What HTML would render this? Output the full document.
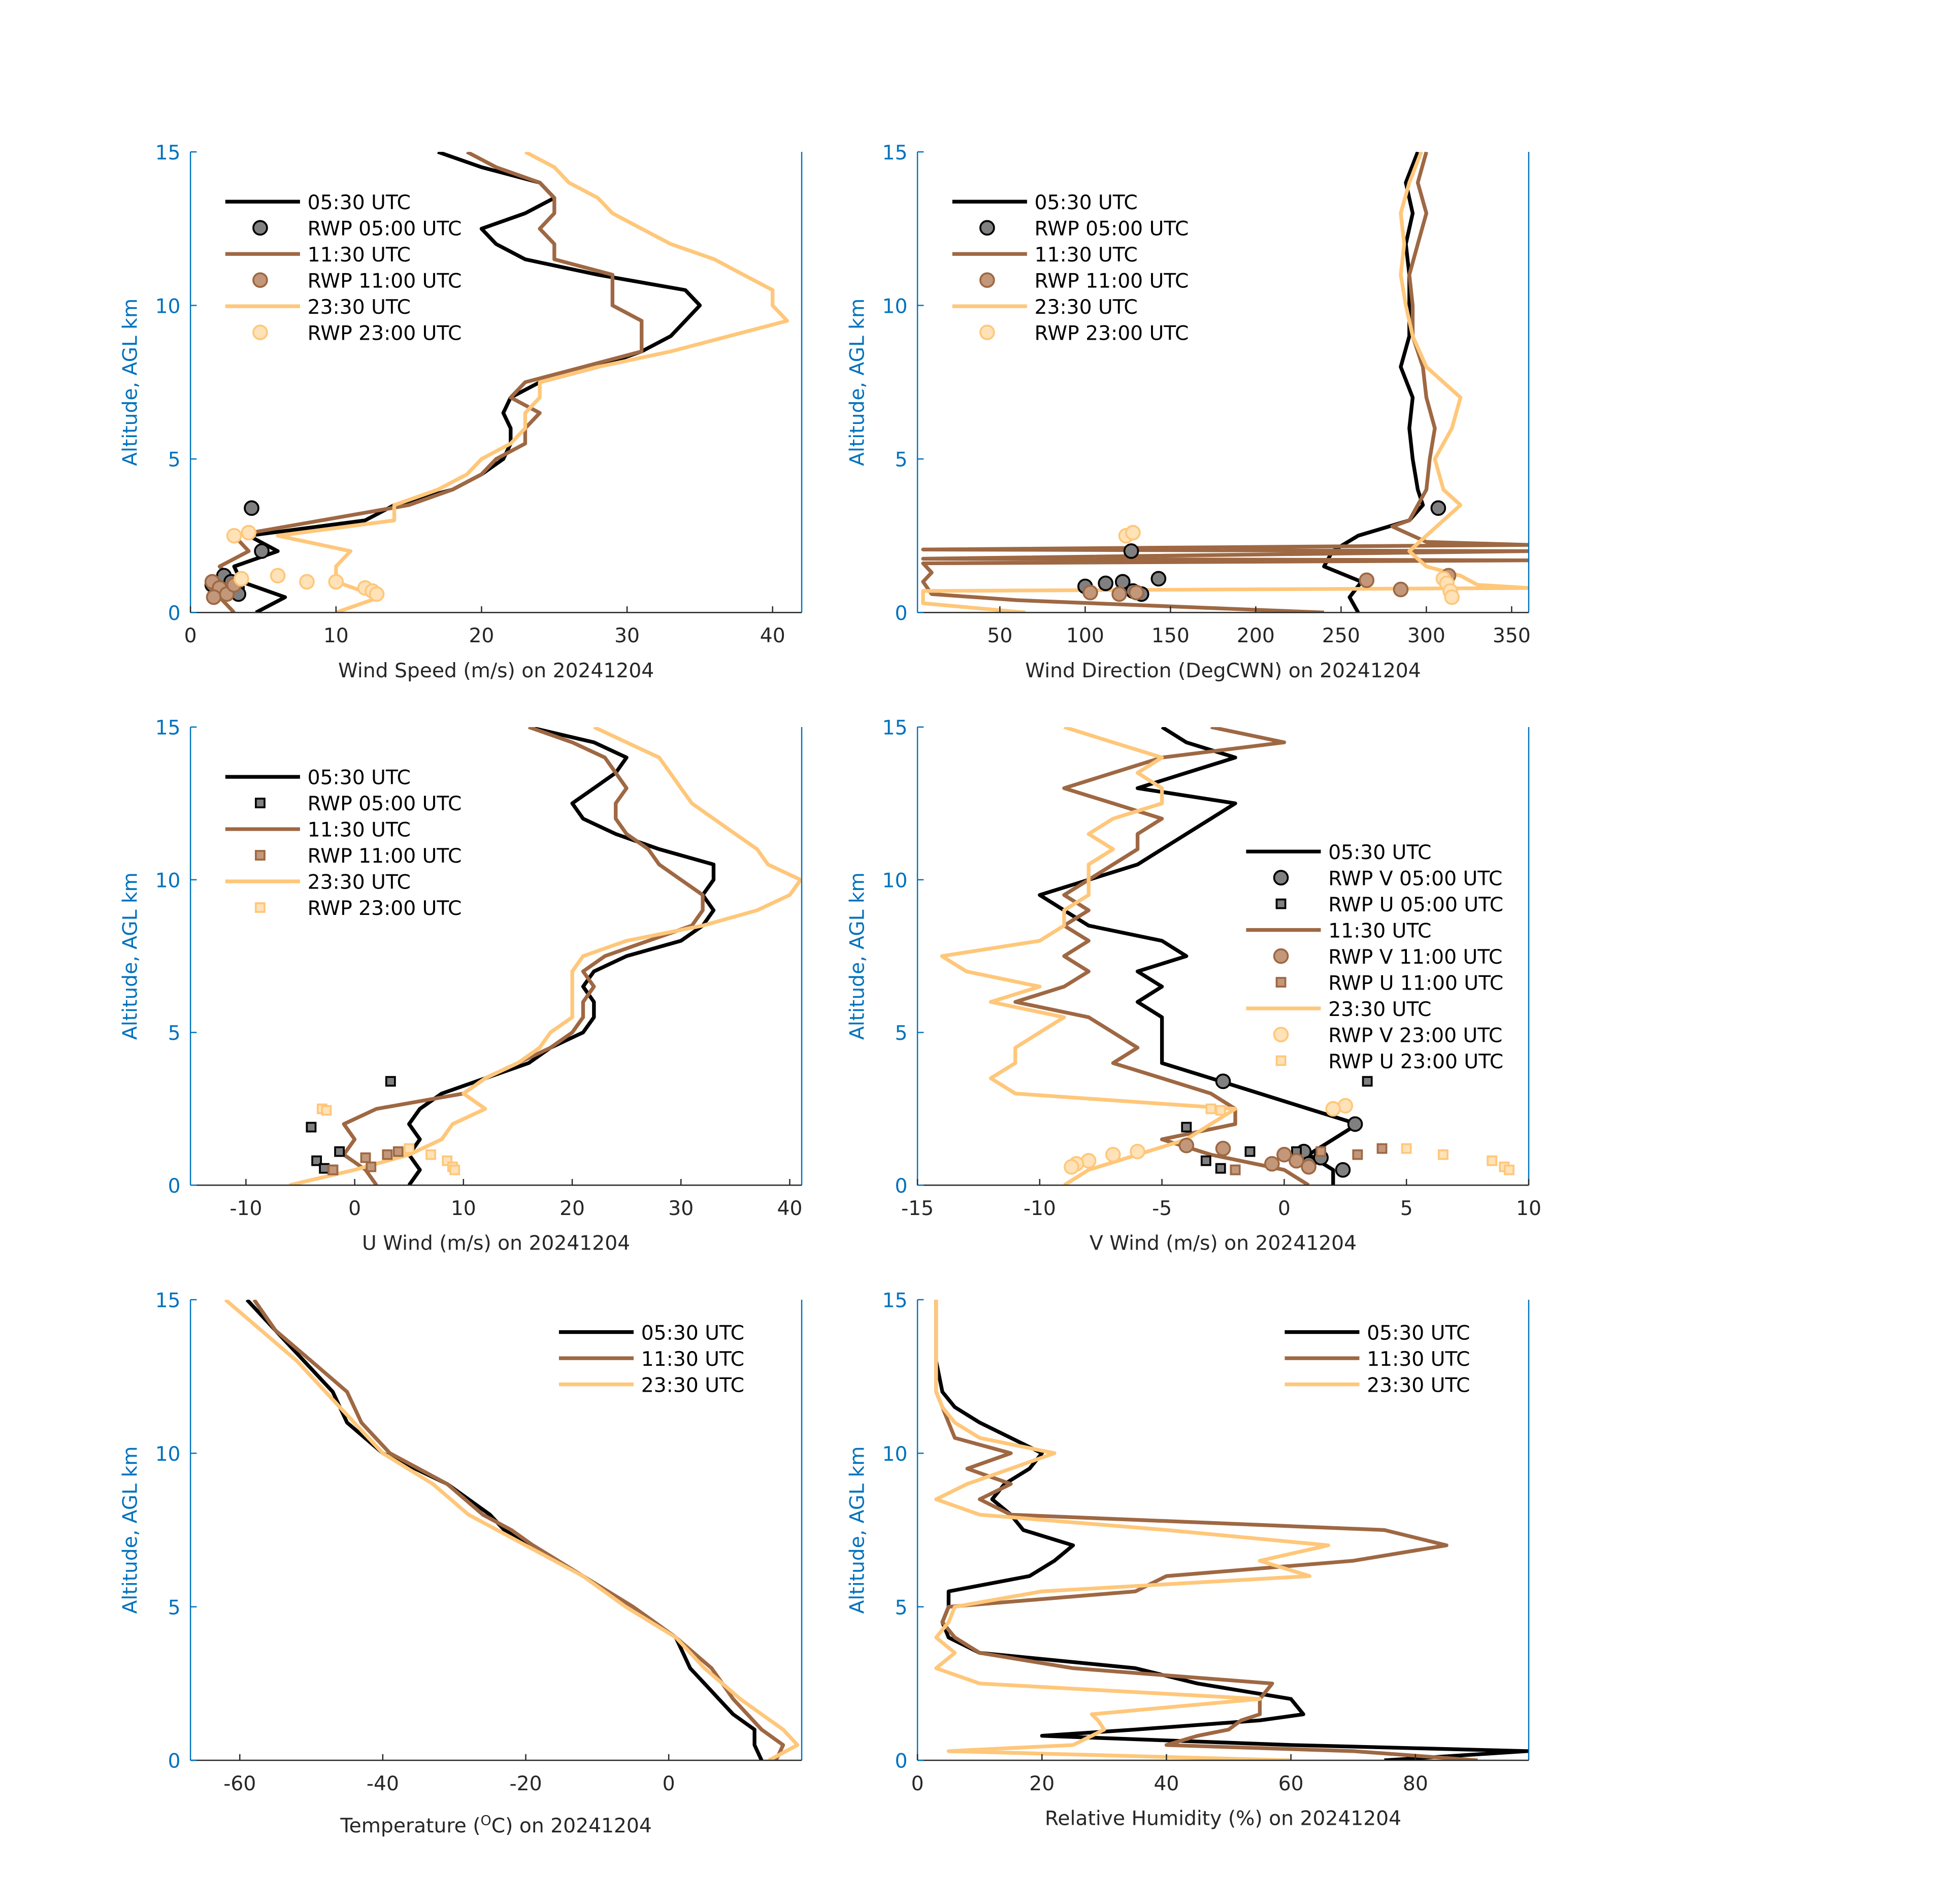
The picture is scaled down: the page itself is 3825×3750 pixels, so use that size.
<!DOCTYPE html>
<html><head><meta charset="utf-8"><style>
html,body{margin:0;padding:0;background:#fff;}
svg{display:block;font-family:"DejaVu Sans","Liberation Sans",sans-serif;}
</style></head><body>
<svg id="fig" width="3825" height="3750" viewBox="0 0 1560 1529.4" xmlns="http://www.w3.org/2000/svg"></svg>
<script>
// ---- shared altitude grid ----
const altStd = [0,0.5,1,1.5,2,2.5,3,3.5,4,4.5,5,5.5,6,6.5,7,7.5,8,8.5,9,9.5,10,10.5,11,11.5,12,12.5,13,13.5,14,14.5,15];
// ---- wind speed ----
const spd0530 = [4.5,6.5,3.5,3,6,4,12,14,18,20,21.5,22,22,21.5,22,24,28,31,33,34,35,34,28,23,21,20,23,25,24,20,17];
const spd1130 = [3,2,3,2,4,3,9,15,18,20,21,23,23,24,22,23,27,31,31,31,29,29,29,25,25,24,25,25,24,21,19];
const spd2330 = [10,13,10,10,11,6,14,14,17,19,20,22,23,23,24,24,28,33,37,41,40,40,38,36,33,31,29,28,26,25,23];
const rwpSpd0500 = [[4.2,3.4],[4.9,2.0],[2.3,1.2],[2.8,1.0],[3.2,0.8],[3.3,0.6],[2,0.7],[1.5,0.9]];
const rwpSpd1100 = [[1.5,1.0],[2,0.8],[1.6,0.5],[2.5,0.6],[3,0.9]];
const rwpSpd2300 = [[3,2.5],[4,2.6],[6,1.2],[8,1.0],[10,1.0],[12,0.8],[12.5,0.7],[12.8,0.6],[3.5,1.1]];
// ---- wind direction ----
const dirAlt0530 = [0,0.5,1,1.5,2,2.5,3,3.5,4,5,6,7,8,9,10,11,12,13,14,15];
const dir0530 = [260,255,262,240,245,260,290,298,295,292,290,292,285,290,290,290,288,292,288,295];
const dirAlt1130 = [0,0.2,0.4,0.6,1.0,1.3,1.6,1.7,1.75,2.0,2.05,2.2,2.3,2.8,3,3.5,4,5,6,7,8,9,10,11,12,13,14,15];
const dir1130 = [240,150,60,10,5,10,5,360,5,360,5,360,300,280,290,295,300,302,305,300,298,292,292,290,295,300,295,300];
const dirAlt2330 = [0,0.3,0.7,0.8,0.9,1.2,1.5,2,2.5,3,3.5,4,5,6,7,8,9,10,11,12,13,14,15];
const dir2330 = [65,5,5,360,330,320,300,290,300,310,320,310,305,315,320,300,292,288,285,287,285,290,297];
const rwpDir0500 = [[307,3.4],[127,2.0],[100,0.85],[112,0.95],[122,1.0],[128,0.7],[133,0.6],[143,1.1]];
const rwpDir1100 = [[285,0.75],[265,1.05],[313,1.2],[103,0.65],[120,0.6],[130,0.65]];
const rwpDir2300 = [[124,2.5],[128,2.6],[310,1.1],[312,0.95],[314,0.7],[315,0.5]];
// ---- U wind ----
const u0530 = [5,6,5,6,5,6,8,12,16,18,21,22,22,21,22,25,30,32,33,32,33,33,28,24,21,20,22,24,25,22,16];
const u1130 = [2,1,-1,0,-1,2,10,12,15,18,20,21,21,22,21,23,27,31,32,32,30,28,27,25,24,24,25,24,23,20,16];
const u2330 = [-6,0,5,8,9,12,10,12,15,17,18,20,20,20,20,21,25,32,37,40,41,38,37,35,33,31,30,29,28,25,22];
const rwpU0500 = [[3.3,3.4],[-4,1.9],[-1.4,1.1],[-3.5,0.8],[-2,0.5],[-2.8,0.55]];
const rwpU1100 = [[1,0.9],[3,1.0],[4,1.1],[1.5,0.6],[-2,0.5]];
const rwpU2300 = [[-3,2.5],[-2.6,2.45],[5,1.2],[7,1.0],[8.5,0.8],[9,0.6],[9.2,0.5]];
// ---- V wind ----
const v0530 = [2,2,1,2,3,1,-1,-3,-5,-5,-5,-5,-6,-5,-6,-4,-5,-8,-9,-10,-8,-6,-5,-4,-3,-2,-6,-4,-2,-4,-5];
const v1130 = [1,0,-3,-5,-2,-2,-3,-5,-7,-6,-7,-8,-11,-9,-8,-9,-8,-9,-8,-9,-8,-7,-6,-6,-5,-7,-9,-7,-5,0,-3];
const v2330 = [-9,-8,-6,-4,-3,-2,-11,-12,-11,-11,-10,-9,-12,-10,-13,-14,-10,-9,-9,-8,-8,-8,-7,-8,-7,-5,-5,-6,-5,-7,-9];
const rwpV0500 = [[-2.5,3.4],[2.9,2.0],[0.8,1.1],[1.5,0.9],[2.4,0.5],[1,0.7]];
const rwpV1100 = [[-4,1.3],[-2.5,1.2],[0,1.0],[0.5,0.8],[-0.5,0.7],[1,0.6]];
const rwpV2300 = [[2.5,2.6],[2,2.5],[-6,1.1],[-7,1.0],[-8,0.8],[-8.5,0.7],[-8.7,0.6]];
const rwpUv0500 = [[3.4,3.4],[-4,1.9],[-1.4,1.1],[-3.2,0.8],[-2,0.5],[-2.6,0.55],[0.5,1.1]];
const rwpUv1100 = [[4,1.2],[3,1.0],[1.5,1.1],[-2,0.5]];
const rwpUv2300 = [[-3,2.5],[-2.6,2.45],[5,1.2],[6.5,1.0],[8.5,0.8],[9,0.6],[9.2,0.5]];
// ---- temperature ----
const tAlt = [0,0.5,1,1.5,2,2.5,3,4,5,6,7,7.5,8,9,10,11,12,13,14,15];
const t0530 = [13,12,12,9,7,5,3,1,-5,-12,-19,-23,-25,-31,-40,-45,-47,-51,-55,-59];
const t1130 = [15,16,13,11,9,7.5,6,1,-5,-12,-19,-22,-26,-31,-39,-43,-45,-50,-55,-58];
const t2330 = [14,18,16,13,10,7.5,5,1,-6,-12,-20,-24,-28,-33,-40,-44,-48,-52,-57,-62];
// ---- relative humidity ----
const rhAlt = [0,0.3,0.5,0.8,1,1.3,1.5,2,2.5,3,3.5,4,4.5,5,5.5,6,6.5,7,7.5,8,8.5,9,9.5,10,10.5,11,11.5,12,13,14,15];
const rh0530 = [75,98,60,20,35,55,62,60,45,35,10,5,4,5,5,18,22,25,17,15,12,14,18,20,15,10,6,4,3,3,3];
const rh1130 = [90,70,40,45,50,52,55,55,57,25,10,6,4,5,35,40,70,85,75,15,10,15,8,15,6,5,4,3,3,3,3];
const rh2330 = [60,5,25,28,30,29,28,55,10,3,6,3,5,6,20,63,55,66,40,10,3,8,15,22,10,6,4,3,3,3,3];

const NS='http://www.w3.org/2000/svg';
const svg=document.getElementById('fig');
const C0='#000000', C1='#9e6843', C2='#ffc77a';
function mk(tag,attrs,parent){const e=document.createElementNS(NS,tag);for(const k in attrs)e.setAttribute(k,attrs[k]);(parent||svg).appendChild(e);return e;}
function txt(s,x,y,attrs,parent){const e=mk('text',Object.assign({x:x,y:y,'font-size':16},attrs||{}),parent);e.textContent=s;return e;}

function panel(name,box,xmin,xmax,xticks,xlabel){
  const g=mk('g',{});
  
  
  const [L,T,R,B]=box;
  const sx=v=>L+(v-xmin)/(xmax-xmin)*(R-L);
  const sy=a=>B-a/15*(B-T);
  const cp='cp-'+name;
  const cl=mk('clipPath',{id:cp},g);mk('rect',{x:L,y:T,width:R-L,height:B-T},cl);
  const plot=mk('g',{'clip-path':'url(#'+cp+')'},g);
  const ya=mk('line',{x1:L,y1:T,x2:L,y2:B,stroke:'#0072bd','stroke-width':1},g);
  
  mk('line',{x1:R,y1:T,x2:R,y2:B,stroke:'#0072bd','stroke-width':1},g);
  const xa=mk('line',{x1:L,y1:B,x2:R,y2:B,stroke:'#262626','stroke-width':1},g);
  
  [0,5,10,15].forEach(a=>{
    mk('line',{x1:L,y1:sy(a),x2:L+5,y2:sy(a),stroke:'#0072bd'},g);
    const t=txt(String(a),L-8,sy(a)+6,{'text-anchor':'end',fill:'#0072bd'},g);
    
  });
  xticks.forEach(v=>{
    mk('line',{x1:sx(v),y1:B,x2:sx(v),y2:B-5,stroke:'#262626'},g);
    const t=txt(String(v),sx(v),B+24,{'text-anchor':'middle',fill:'#262626'},g);
    
  });
  const yl=txt('Altitude, AGL km',0,0,{'text-anchor':'middle',fill:'#0072bd',transform:`translate(${L-43},${(T+B)/2}) rotate(-90)`},g);
  
  xlabel(g,(L+R)/2,B);
  return {g,plot,sx,sy};
}
function line(p,alts,vals,color,name){
  const d=vals.map((v,i)=>(i?'L':'M')+p.sx(v).toFixed(1)+','+p.sy(alts[i]).toFixed(1)).join('');
  const e=mk('path',{d:d,fill:'none',stroke:color,'stroke-width':3,'stroke-linejoin':'round'},p.plot);
  
  
}
const mStyle={0:['#808080','#000'],1:['#c3987a',C1],2:['#ffe2b8',C2]};
function pts(p,arr,k,shape,name){
  arr.forEach(([v,a])=>{
    const [f,s]=mStyle[k];let e;
    if(shape==='c') e=mk('circle',{cx:p.sx(v),cy:p.sy(a),r:5.5,fill:f,stroke:s,'stroke-width':1.5},p.g);
    else e=mk('rect',{x:p.sx(v)-3.5,y:p.sy(a)-3.5,width:7,height:7,fill:f,stroke:s,'stroke-width':1.5},p.g);
    
    
  });
}
function legend(p,x,y,items){
  const lg=mk('g',{},p.g);
  
  
  items.forEach((it,i)=>{
    const yy=y+i*21;
    const [k,kind,label]=it;
    if(kind==='l') mk('line',{x1:x,y1:yy,x2:x+60,y2:yy,stroke:[C0,C1,C2][k],'stroke-width':3},lg);
    else if(kind==='c'){const [f,s]=mStyle[k];mk('circle',{cx:x+28,cy:yy,r:5.5,fill:f,stroke:s,'stroke-width':1.5},lg);}
    else {const [f,s]=mStyle[k];mk('rect',{x:x+24.5,y:yy-3.5,width:7,height:7,fill:f,stroke:s,'stroke-width':1.5},lg);}
    const t=txt(label,x+66,yy+6,{fill:'#000'},lg);
    
  });
}
function simpleXL(s){return (g,cx,B)=>{const t=txt(s,cx,B+52,{'text-anchor':'middle',fill:'#262626'},g);};}
const topLeg=[[0,'l','05:30 UTC'],[0,'c','RWP 05:00 UTC'],[1,'l','11:30 UTC'],[1,'c','RWP 11:00 UTC'],[2,'l','23:30 UTC'],[2,'c','RWP 23:00 UTC']];

let p=panel('wind-speed-panel',[153,122,644,492],0,42,[0,10,20,30,40],simpleXL('Wind Speed (m/s) on 20241204'));
line(p,altStd,spd0530,C0,'speed-0530');line(p,altStd,spd1130,C1,'speed-1130');line(p,altStd,spd2330,C2,'speed-2330');
pts(p,rwpSpd0500,0,'c','rwp-speed-0500');pts(p,rwpSpd1100,1,'c','rwp-speed-1100');pts(p,rwpSpd2300,2,'c','rwp-speed-2300');
legend(p,181,162,topLeg);

p=panel('wind-direction-panel',[737,122,1228,492],1.7,360,[50,100,150,200,250,300,350],simpleXL('Wind Direction (DegCWN) on 20241204'));
line(p,dirAlt0530,dir0530,C0,'dir-0530');line(p,dirAlt1130,dir1130,C1,'dir-1130');line(p,dirAlt2330,dir2330,C2,'dir-2330');
pts(p,rwpDir0500,0,'c','rwp-dir-0500');pts(p,rwpDir1100,1,'c','rwp-dir-1100');pts(p,rwpDir2300,2,'c','rwp-dir-2300');
legend(p,765,162,topLeg);

p=panel('u-wind-panel',[153,584,644,952],-15.1,41.1,[-10,0,10,20,30,40],simpleXL('U Wind (m/s) on 20241204'));
line(p,altStd,u0530,C0,'u-0530');line(p,altStd,u1130,C1,'u-1130');line(p,altStd,u2330,C2,'u-2330');
pts(p,rwpU0500,0,'s','rwp-u-0500');pts(p,rwpU1100,1,'s','rwp-u-1100');pts(p,rwpU2300,2,'s','rwp-u-2300');
legend(p,181,624,[[0,'l','05:30 UTC'],[0,'s','RWP 05:00 UTC'],[1,'l','11:30 UTC'],[1,'s','RWP 11:00 UTC'],[2,'l','23:30 UTC'],[2,'s','RWP 23:00 UTC']]);

p=panel('v-wind-panel',[737,584,1228,952],-15,10,[-15,-10,-5,0,5,10],simpleXL('V Wind (m/s) on 20241204'));
line(p,altStd,v0530,C0,'v-0530');line(p,altStd,v1130,C1,'v-1130');line(p,altStd,v2330,C2,'v-2330');
pts(p,rwpV0500,0,'c','rwp-v-0500');pts(p,rwpUv0500,0,'s','rwp-u-0500');
pts(p,rwpV1100,1,'c','rwp-v-1100');pts(p,rwpUv1100,1,'s','rwp-u-1100');
pts(p,rwpV2300,2,'c','rwp-v-2300');pts(p,rwpUv2300,2,'s','rwp-u-2300');
legend(p,1001,684,[[0,'l','05:30 UTC'],[0,'c','RWP V 05:00 UTC'],[0,'s','RWP U 05:00 UTC'],[1,'l','11:30 UTC'],[1,'c','RWP V 11:00 UTC'],[1,'s','RWP U 11:00 UTC'],[2,'l','23:30 UTC'],[2,'c','RWP V 23:00 UTC'],[2,'s','RWP U 23:00 UTC']]);

p=panel('temperature-panel',[153,1044,644,1414],-66.9,18.6,[-60,-40,-20,0],(g,cx,B)=>{
  const t=mk('text',{x:cx,y:B+58,'font-size':16,'text-anchor':'middle',fill:'#262626'},g);
  
  t.innerHTML='Temperature (<tspan dy="-6" font-size="11">O</tspan><tspan dy="6">C) on 20241204</tspan>';
});
line(p,tAlt,t0530,C0,'temp-0530');line(p,tAlt,t1130,C1,'temp-1130');line(p,tAlt,t2330,C2,'temp-2330');
legend(p,449,1070,[[0,'l','05:30 UTC'],[1,'l','11:30 UTC'],[2,'l','23:30 UTC']]);

p=panel('relative-humidity-panel',[737,1044,1228,1414],0,98.2,[0,20,40,60,80],simpleXL('Relative Humidity (%) on 20241204'));
line(p,rhAlt,rh0530,C0,'rh-0530');line(p,rhAlt,rh1130,C1,'rh-1130');line(p,rhAlt,rh2330,C2,'rh-2330');
legend(p,1032,1070,[[0,'l','05:30 UTC'],[1,'l','11:30 UTC'],[2,'l','23:30 UTC']]);
</script>
</body></html>
